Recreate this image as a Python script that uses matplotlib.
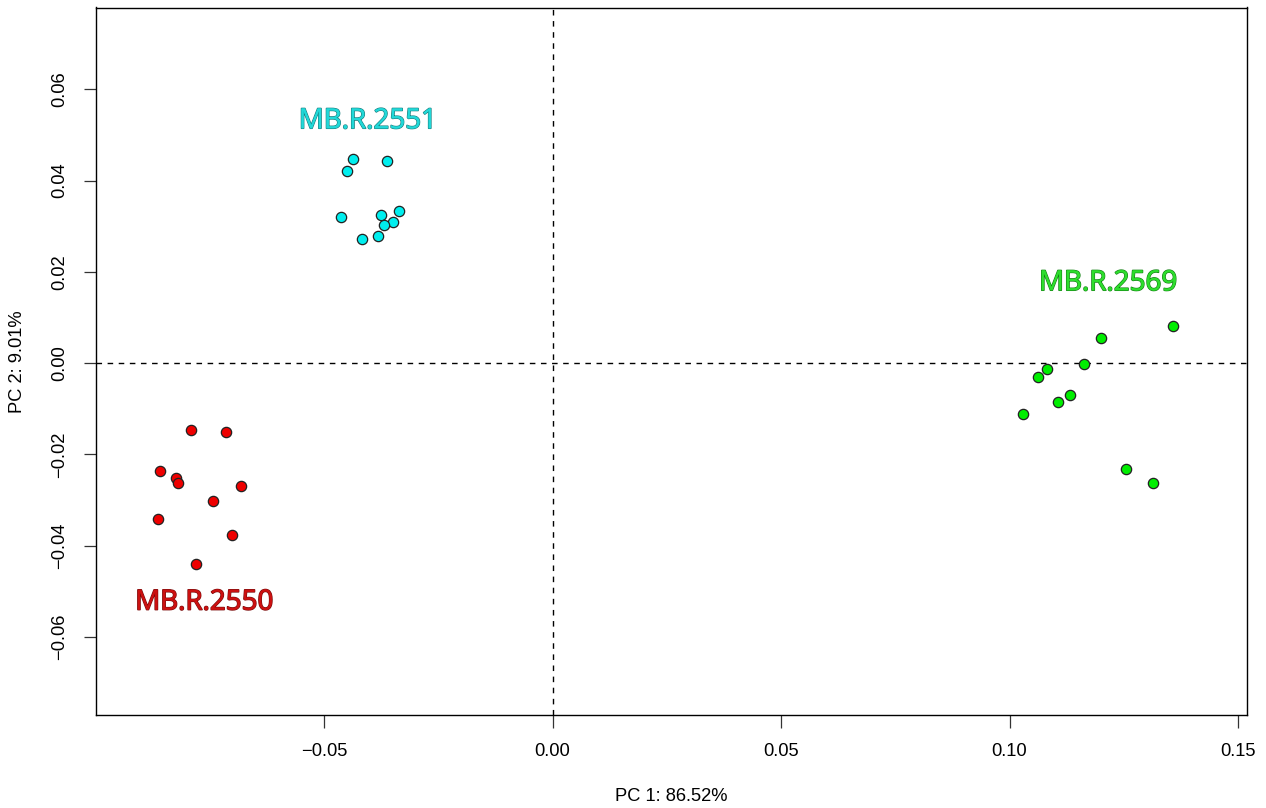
import matplotlib
matplotlib.use("Agg")
import matplotlib.pyplot as plt
import matplotlib.patheffects as pe

# PCA scores per group (PC1, PC2)
g2551_pc1 = [-0.04365, -0.03628, -0.0450, -0.0463, -0.03746, -0.03366, -0.03483, -0.0368, -0.03825, -0.0417]
g2551_pc2 = [0.04475, 0.0443, 0.0420, 0.0321, 0.03255, 0.03336, 0.0309, 0.0302, 0.0278, 0.0272]

g2550_pc1 = [-0.0791, -0.07138, -0.08595, -0.0824, -0.08195, -0.06816, -0.07422, -0.08626, -0.07007, -0.07794]
g2550_pc2 = [-0.01461, -0.01505, -0.02366, -0.0252, -0.02622, -0.02688, -0.03032, -0.03426, -0.03761, -0.04397]

g2569_pc1 = [0.13571, 0.12002, 0.11623, 0.1082, 0.1063, 0.11317, 0.11061, 0.10302, 0.12549, 0.1314]
g2569_pc2 = [0.00824, 0.00561, -0.0003, -0.00125, -0.0030, -0.00701, -0.00848, -0.0111, -0.02315, -0.02622]

group_names = ["MB.R.2551", "MB.R.2550", "MB.R.2569"]
label_pos = [(-0.0404, 0.0530), (-0.0762, -0.0525), (0.1216, 0.0175)]

x_ticks = [-0.05, 0.00, 0.05, 0.10, 0.15]
y_ticks = [-0.06, -0.04, -0.02, 0.00, 0.02, 0.04, 0.06]
x_label = "PC 1: 86.52%"
y_label = "PC 2: 9.01%"

point_colors = ["#00EEEE", "#EE0000", "#00EE00"]
text_fill = ["#22D8D8", "#CC1111", "#2EDD2E"]
text_edge = ["#157F7F", "#7A0A0A", "#118011"]

plt.rcParams["font.family"] = ["Liberation Sans", "DejaVu Sans"]

fig = plt.figure(figsize=(12.66, 8.08), dpi=100)
ax = fig.add_axes([96 / 1266, 1 - 715 / 808, (1246.7 - 96) / 1266, (715 - 7.5) / 808])

ax.axhline(0, color="black", lw=1, ls=(0, (4, 4)), zorder=1)
ax.axvline(0, color="black", lw=1, ls=(0, (4, 4)), zorder=1)

groups = [(g2551_pc1, g2551_pc2), (g2550_pc1, g2550_pc2), (g2569_pc1, g2569_pc2)]
for (xs, ys), c in zip(groups, point_colors):
    ax.scatter(xs, ys, s=55, c=c, edgecolors="#222222", linewidths=0.9, zorder=3)

for name, (lx, ly), f, e in zip(group_names, label_pos, text_fill, text_edge):
    ax.text(lx, ly, name, ha="center", va="center", fontsize=20, color=f,
            family=["Open Sans", "DejaVu Sans"],
            path_effects=[pe.withStroke(linewidth=1.1, foreground=e), pe.Normal()],
            zorder=4)

ax.set_xlim(-0.0999, 0.1519)
ax.set_ylim(-0.07713, 0.07794)
ax.set_xticks(x_ticks)
ax.set_xticklabels(["\u22120.05", "0.00", "0.05", "0.10", "0.15"])
ax.set_yticks(y_ticks)
ax.set_yticklabels(["\u22120.06", "\u22120.04", "\u22120.02", "0.00", "0.02", "0.04", "0.06"],
                   rotation=90, va="center")
ax.tick_params(axis="both", labelsize=13.2, length=9, width=0.9, color="#333333", pad=11)
for s in ax.spines.values():
    s.set_linewidth(1)

ax.set_xlabel(x_label, fontsize=13.2, labelpad=20)
ax.set_ylabel(y_label, fontsize=13.2, labelpad=18)

fig.savefig("out.png", dpi=100)
